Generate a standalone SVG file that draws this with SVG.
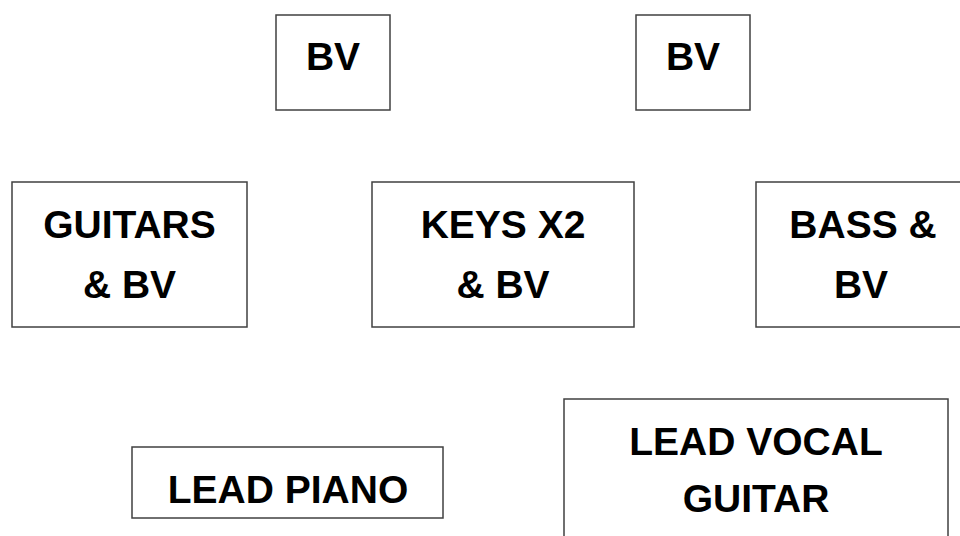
<svg xmlns="http://www.w3.org/2000/svg" width="960" height="536" viewBox="0 0 960 536">
<style>
.box{fill:#fff;stroke:#404040;stroke-width:1.5}
.t{font-family:"Liberation Sans",Arial,sans-serif;font-weight:bold;font-size:39px;fill:#000;text-anchor:middle}
</style>
<rect width="960" height="536" fill="#fff"/>
<g id="connectors"></g>
<g id="bv1"><rect class="box" x="276" y="15" width="114" height="95"/><text class="t" x="333" y="70">BV</text></g>
<g id="bv2"><rect class="box" x="636" y="15" width="114" height="95"/><text class="t" x="693" y="70">BV</text></g>
<g id="guitars"><rect class="box" x="12" y="182" width="235" height="145"/><text class="t" x="129.5" y="238">GUITARS</text><text class="t" x="129.5" y="298">&amp; BV</text></g>
<g id="keys"><rect class="box" x="372" y="182" width="262" height="145"/><text class="t" x="503" y="238">KEYS X2</text><text class="t" x="503" y="298">&amp; BV</text></g>
<g id="bass"><rect class="box" x="756" y="182" width="220" height="145"/><text class="t" x="863" y="238">BASS &amp;</text><text class="t" x="861" y="298">BV</text></g>
<g id="leadpiano"><rect class="box" x="132" y="447" width="311" height="71"/><text class="t" x="288" y="503">LEAD PIANO</text></g>
<g id="leadvocal"><rect class="box" x="564" y="399" width="384" height="160"/><text class="t" x="756" y="455">LEAD VOCAL</text><text class="t" x="756" y="512">GUITAR</text></g>
</svg>
